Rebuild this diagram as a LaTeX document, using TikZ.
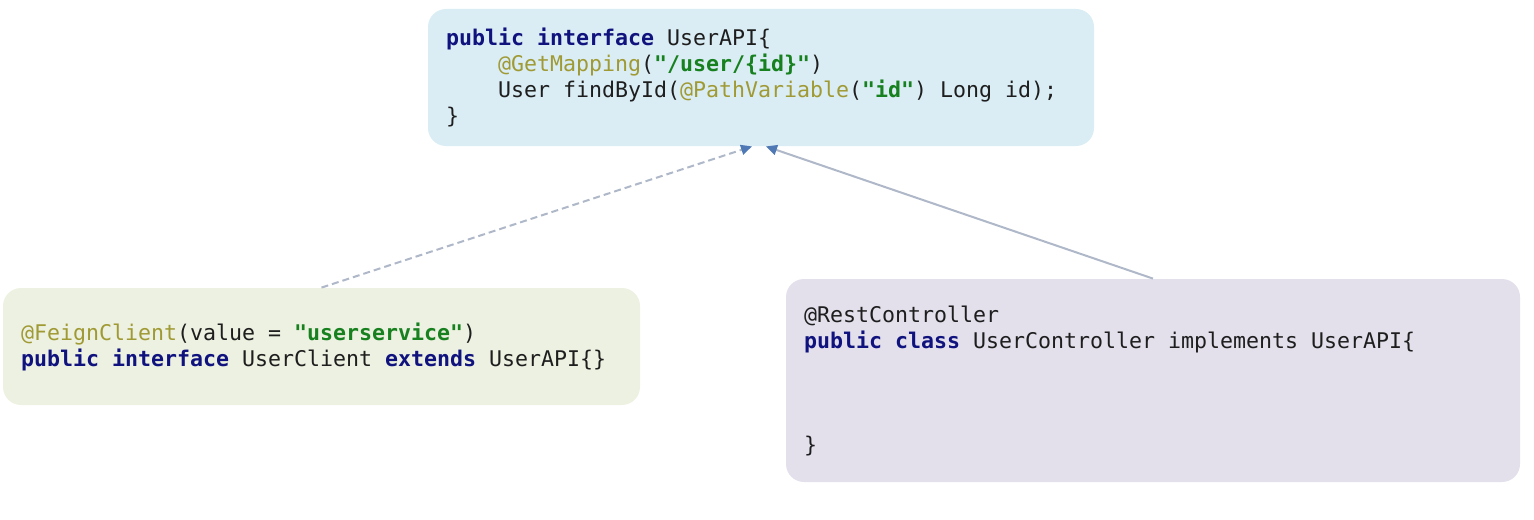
\documentclass[tikz,border=0pt]{standalone}
\usepackage{fontspec}
\setmonofont{DejaVu Sans Mono}
\usetikzlibrary{arrows.meta,calc}

\definecolor{apifill}{HTML}{DAEDF5}
\definecolor{clientfill}{HTML}{EDF1E1}
\definecolor{ctrlfill}{HTML}{E3E0EC}
\definecolor{codetext}{HTML}{1E1E1E}
\definecolor{kwnavy}{HTML}{10137E}
\definecolor{annolive}{HTML}{A09A34}
\definecolor{strgreen}{HTML}{17801F}
\definecolor{linkgray}{HTML}{AFB8C8}
\definecolor{tipblue}{HTML}{4F79B5}

\newcommand{\jkw}[1]{\textcolor{kwnavy}{\bfseries #1}}
\newcommand{\jann}[1]{\textcolor{annolive}{#1}}
\newcommand{\jstr}[1]{\textcolor{strgreen}{\bfseries #1}}
\newcommand{\jind}{\hphantom{xxxx}}
\newcommand{\codespaces}{\spaceskip=6.5pt plus 0pt minus 0pt\xspaceskip=6.5pt plus 0pt minus 0pt}

\tikzset{
	codebox/.style={rounded corners=9pt, align=left, inner xsep=9pt, inner ysep=0pt,
		font=\ttfamily\fontsize{10.8}{13}\selectfont, text=codetext,
		execute at begin node=\codespaces},
	link/.style={line width=1pt, draw=linkgray, -{Triangle[length=5.5pt,width=5pt,color=tipblue]}}
}

\begin{document}
\begin{tikzpicture}[x=0.5pt,y=-0.5pt]
	\useasboundingbox (0,0) rectangle (1534,519);
	% interface
	\node[codebox, fill=apifill, text width=315pt, minimum width=333pt, minimum height=68.5pt] (api) at (761,77.5)
		{\jkw{public} \jkw{interface} UserAPI\{\\
		\jind\jann{@GetMapping}(\jstr{"/user/\{id\}"})\\
		\jind User findById(\jann{@PathVariable}(\jstr{"id"}) Long id);\\
		\}};
	% feign client
	\node[codebox, fill=clientfill, text width=300.5pt, minimum width=318.5pt, minimum height=58.5pt] (client) at (321.5,346.5)
		{\jann{@FeignClient}(value = \jstr{"userservice"})\\
		\jkw{public} \jkw{interface} UserClient \jkw{extends} UserAPI\{\}};
	% controller
	\node[codebox, fill=ctrlfill, text width=349pt, minimum width=367pt, minimum height=101.5pt] (ctrl) at (1153,380.5)
		{@RestController\\
		\jkw{public} \jkw{class} UserController implements UserAPI\{\\
		~\\
		~\\
		~\\
		\}};
	% links
	\draw[link, dash pattern=on 3.5pt off 2pt] (client.north) -- ($(api.south)+(-9,0)$);
	\draw[link] (ctrl.north) -- ($(api.south)+(5,0)$);
\end{tikzpicture}
\end{document}
